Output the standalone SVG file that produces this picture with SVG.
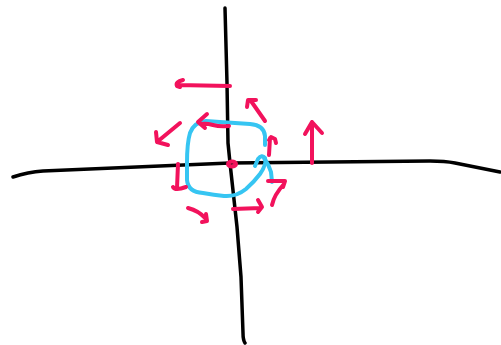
<svg xmlns="http://www.w3.org/2000/svg" width="501" height="345" viewBox="0 0 501 345">
<style>
path,ellipse{fill:none;stroke-linecap:round;stroke-linejoin:round}
.ax{stroke:#000;stroke-width:3.5}
.pk{stroke:#f2125c;stroke-width:4}
.bl{stroke:#36c5f2;stroke-width:4}
</style>
<rect width="501" height="345" fill="#fff"/>
<g id="axes">
<path class="ax" d="M225,8 L227,83 L228,143 L230,163 L237,227 L241,277 L243,333 Q243,340 245,343"/>
<path class="ax" d="M13,177 Q28,172 43,171 L230,163 L430,161 Q445,161 455,163 L500,172"/>
</g>
<g id="loop">
<path class="bl" d="M265,145 L265,136 Q264,125 250,124 L220,122 L206,121 Q194,122 190,133 Q187,143 187,163 L187,180 Q188,192 203,193 Q214,195 224,196 Q236,197 246,189 Q254,182 260,174 Q267,164 265,158 Q262,154 258,159 L255,166"/>
<path class="bl" d="M264,158 Q269,165 271,172 L272,182"/>
</g>
<g id="arrows">
<path class="pk" d="M230,86 L177,85 M183,80 Q175,82 177,86 L180,87"/>
<path class="pk" d="M265,121 L251,101 M247,107 L248,100 L256,100"/>
<path class="pk" d="M269,155 L270,138 M269,140 L271,137 L275,139 L276,143"/>
<path class="pk" d="M312,163 L312,122 M305,134 L312,122 L322,133"/>
<path class="pk" d="M180,123 L157,142 M156,132 L157,142 L168,145"/>
<path class="pk" d="M229,126 Q220,127 213,125 Q206,123 201,124 M207,114 L198,122 L205,128"/>
<path class="pk" d="M178,164 L177,188 M173,187 Q175,191 186,187"/>
<path class="pk" d="M188,208 Q199,211 205,218 M202,222 L207,221 L206,214"/>
<path class="pk" d="M233,209 L261,208 M258,200 L262,207 L258,212"/>
<path class="pk" d="M268,181 L285,181 L283,187 M272,205 Q274,195 284,184"/>
<ellipse class="pk" cx="232" cy="164" rx="4" ry="2.5" stroke-width="3"/>
</g>
</svg>
